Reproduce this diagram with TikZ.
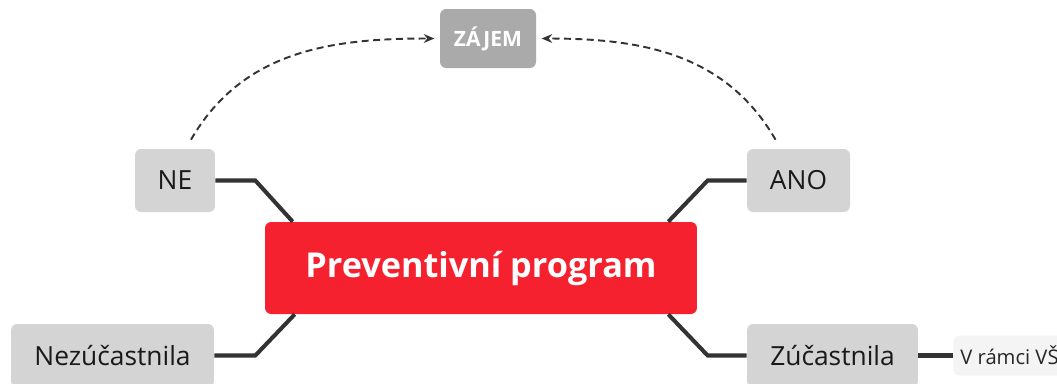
\documentclass[tikz,border=0pt]{standalone}
\usepackage{fontspec}
\setmainfont{Open Sans}
\usetikzlibrary{arrows.meta,calc}
\definecolor{progred}{HTML}{F5212F}
\definecolor{topicgray}{HTML}{D4D4D4}
\definecolor{zajemgray}{HTML}{AAAAAA}
\definecolor{subgray}{HTML}{F4F4F4}
\definecolor{linegray}{HTML}{333333}
\tikzset{>=Stealth,every node/.style={font=\small},
  mainbox/.style={fill=progred,rounded corners=3.5pt,text=white,font=\bfseries\fontsize{19.5}{24}\selectfont,minimum width=8.64cm,minimum height=1.84cm},
  topic/.style={fill=topicgray,rounded corners=3.5pt,text=black!90,font=\fontsize{15}{18}\selectfont,minimum height=1.26cm},
  zajembox/.style={fill=zajemgray,rounded corners=3.5pt,text=white,font=\bfseries\fontsize{12}{14}\selectfont,minimum width=1.92cm,minimum height=1.18cm},
  subtopic/.style={fill=subgray,rounded corners=3pt,text=black!85,font=\fontsize{11.5}{13}\selectfont,minimum height=0.8cm,anchor=west,inner xsep=4pt},
  branch/.style={line width=2.3pt,draw=linegray},
  interest/.style={line width=1.1pt,dash pattern=on 4pt off 2.5pt,draw=linegray,-{Stealth[length=6pt,width=5pt]},shorten >=3pt}}

\begin{document}
\begin{tikzpicture}[x=0.02cm,y=-0.02cm]
\useasboundingbox (0,0) rectangle (1057,383);
% hlavni uzel a vetve
\node[mainbox] (prog) at (481,268) {Preventivní program};
\node[topic,minimum width=1.6cm] (ne) at (175,180.5) {NE};
\node[topic,minimum width=2.06cm] (ano) at (798.5,180.5) {ANO};
\node[topic,minimum width=4.06cm] (nez) at (112.5,355.5) {Nezúčastnila};
\node[topic,minimum width=3.42cm] (zuc) at (832.5,355.5) {Zúčastnila};
\node[zajembox] (zajem) at (488,38.5) {ZÁJEM};
\node[subtopic] (vs) at (953,355.5) {V rámci VŠ};
\draw[branch] (ne.east)--++(40,0)--($(prog.north west)+(28,0)$);
\draw[branch] (nez.east)--++(41,0)--($(prog.south west)+(30,0)$);
\draw[branch] (ano.west)--++(-39,0)--($(prog.north east)+(-29,0)$);
\draw[branch] (zuc.west)--++(-39,0)--($(prog.south east)+(-29,0)$);
\draw[branch] (zuc.east)--(vs.west);
% zajem
\draw[interest] ($(ne.north)+(16,-9)$) to[out=60,in=180] (zajem.west);
\draw[interest] ($(ano.north)+(-23,-9)$) to[out=120,in=0] (zajem.east);
\end{tikzpicture}
\end{document}
